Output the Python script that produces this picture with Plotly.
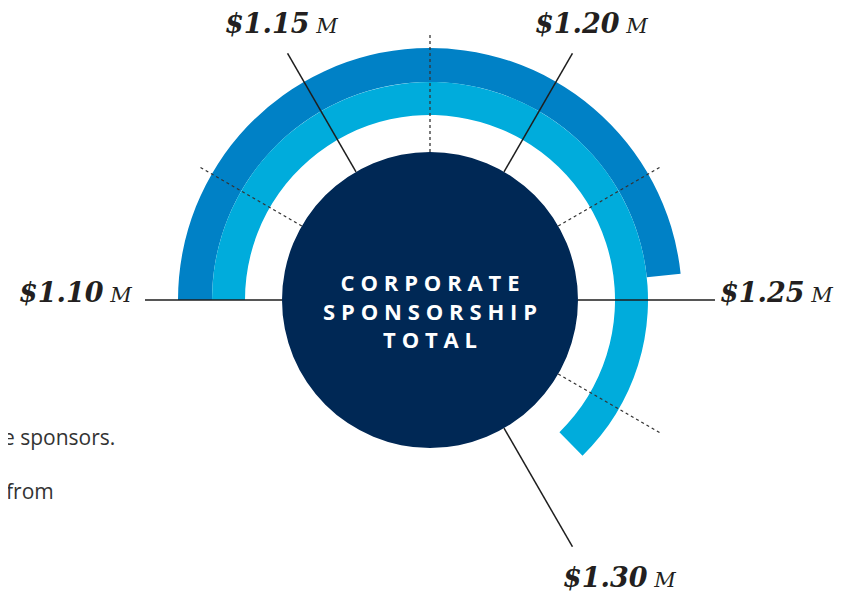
import plotly.graph_objects as go

# ---- data ----
scale_min = 1.10          # $M at the left end of the dial
step = 0.05               # $M between labelled ticks
deg_per_step = 60         # degrees between labelled ticks
major_ticks = [1.10, 1.15, 1.20, 1.25, 1.30]
major_labels = ["$1.10", "$1.15", "$1.20", "$1.25", "$1.30"]
minor_ticks = [1.125, 1.175, 1.225, 1.275]
series_names = ["Outer total", "Inner total"]
series_values = [1.245, 1.288]
center_lines = ["CORPORATE", "SPONSORSHIP", "TOTAL"]


def to_theta(v):
    return (v - scale_min) / step * deg_per_step


W, H = 855, 593
OFF = 8                    # page body margin in px
CX, CY = 430 - OFF, 300 - OFF   # dial centre in px (from top of figure)
RMAX = 285                 # px radius of polar area
R_CIRCLE = 148
R_TICK_MAJOR = 286
R_TICK_MINOR = 268
BANDS = [(218, 34, "#0081c6"), (185, 33, "#00acdc")]

fig = go.Figure()


def tick_trace(vals, r0, r1, dash, color, width):
    rr, tt = [], []
    for v in vals:
        rr += [r0, r1, None]
        tt += [to_theta(v), to_theta(v), None]
    return go.Scatterpolar(r=rr, theta=tt, mode="lines",
                           line=dict(color=color, width=width, dash=dash),
                           hoverinfo="skip", showlegend=False, connectgaps=False,
                           cliponaxis=False)


behind = [v for v in minor_ticks if abs(to_theta(v) - 90) > 1]
front = [v for v in minor_ticks if abs(to_theta(v) - 90) <= 1]
fig.add_trace(tick_trace(behind, R_CIRCLE, R_TICK_MINOR, "dot", "#333333", 1.3))

# arcs
for (base, thick, col), name, val in zip(BANDS, series_names, series_values):
    span = to_theta(val)
    fig.add_trace(go.Barpolar(r=[thick], base=[base], theta=[span / 2], width=[span],
                              marker=dict(color=col, line=dict(width=0)),
                              name=name, showlegend=False, hoverinfo="skip"))

fig.add_trace(tick_trace(front, R_CIRCLE, 265, "dot", "#333333", 1.3))

# centre disc
fig.add_trace(go.Barpolar(r=[R_CIRCLE], base=[0], theta=[180], width=[360],
                          marker=dict(color="#002855", line=dict(width=0)),
                          showlegend=False, hoverinfo="skip"))

# major ticks
fig.add_trace(tick_trace(major_ticks, R_CIRCLE, R_TICK_MAJOR, "solid", "#1e1e1e", 1.5))

pad = RMAX
fig.update_layout(
    width=W, height=H,
    margin=dict(l=0, r=0, t=0, b=0),
    paper_bgcolor="white",
    polar=dict(
        domain=dict(x=[(CX - pad) / W, (CX + pad) / W],
                    y=[(H - CY - pad) / H, (H - CY + pad) / H]),
        bgcolor="rgba(0,0,0,0)",
        angularaxis=dict(rotation=180, direction="clockwise", visible=False,
                         showgrid=False),
        radialaxis=dict(range=[0, RMAX], visible=False, showgrid=False),
        bargap=0,
    ),
)


def px(x, y):
    return (x - OFF) / W, (H - (y - OFF)) / H


label_font = dict(family="DejaVu Serif", size=27, color="#231f20")
pos = {  # px positions in the page (x, y from top), anchor
    "$1.10": (134, 292, "right"),
    "$1.15": (281, 23, "center"),
    "$1.20": (591, 23, "center"),
    "$1.25": (718, 292, "left"),
    "$1.30": (619, 577, "center"),
}
for lab in major_labels:
    x, y, anc = pos[lab]
    xp, yp = px(x, y)
    fig.add_annotation(
        x=xp, y=yp, xref="paper", yref="paper",
        xanchor=anc, yanchor="middle", showarrow=False,
        text=f"<b><i>{lab}</i></b><span style='font-size:21px'><i> M</i></span>",
        font=label_font,
    )

spaced = "<br>".join("\u2009\u200a".join(list(s)) for s in center_lines)
xp, yp = px(430, 311)
fig.add_annotation(x=xp, y=yp, xref="paper", yref="paper",
                   xanchor="center", yanchor="middle", showarrow=False,
                   text=f"<b>{spaced}</b>",
                   font=dict(family="Open Sans", size=22, color="white"))

# clipped body text at left edge
xp, yp = px(117, 437)
fig.add_annotation(x=xp, y=yp, xref="paper", yref="paper",
                   xanchor="right", yanchor="middle", showarrow=False,
                   text="e sponsors.", font=dict(family="Open Sans", size=21, color="#333333"))
xp, yp = px(56, 491)
fig.add_annotation(x=xp, y=yp, xref="paper", yref="paper",
                   xanchor="right", yanchor="middle", showarrow=False,
                   text="from", font=dict(family="Open Sans", size=21, color="#333333"))

fig.write_html("out.html")
